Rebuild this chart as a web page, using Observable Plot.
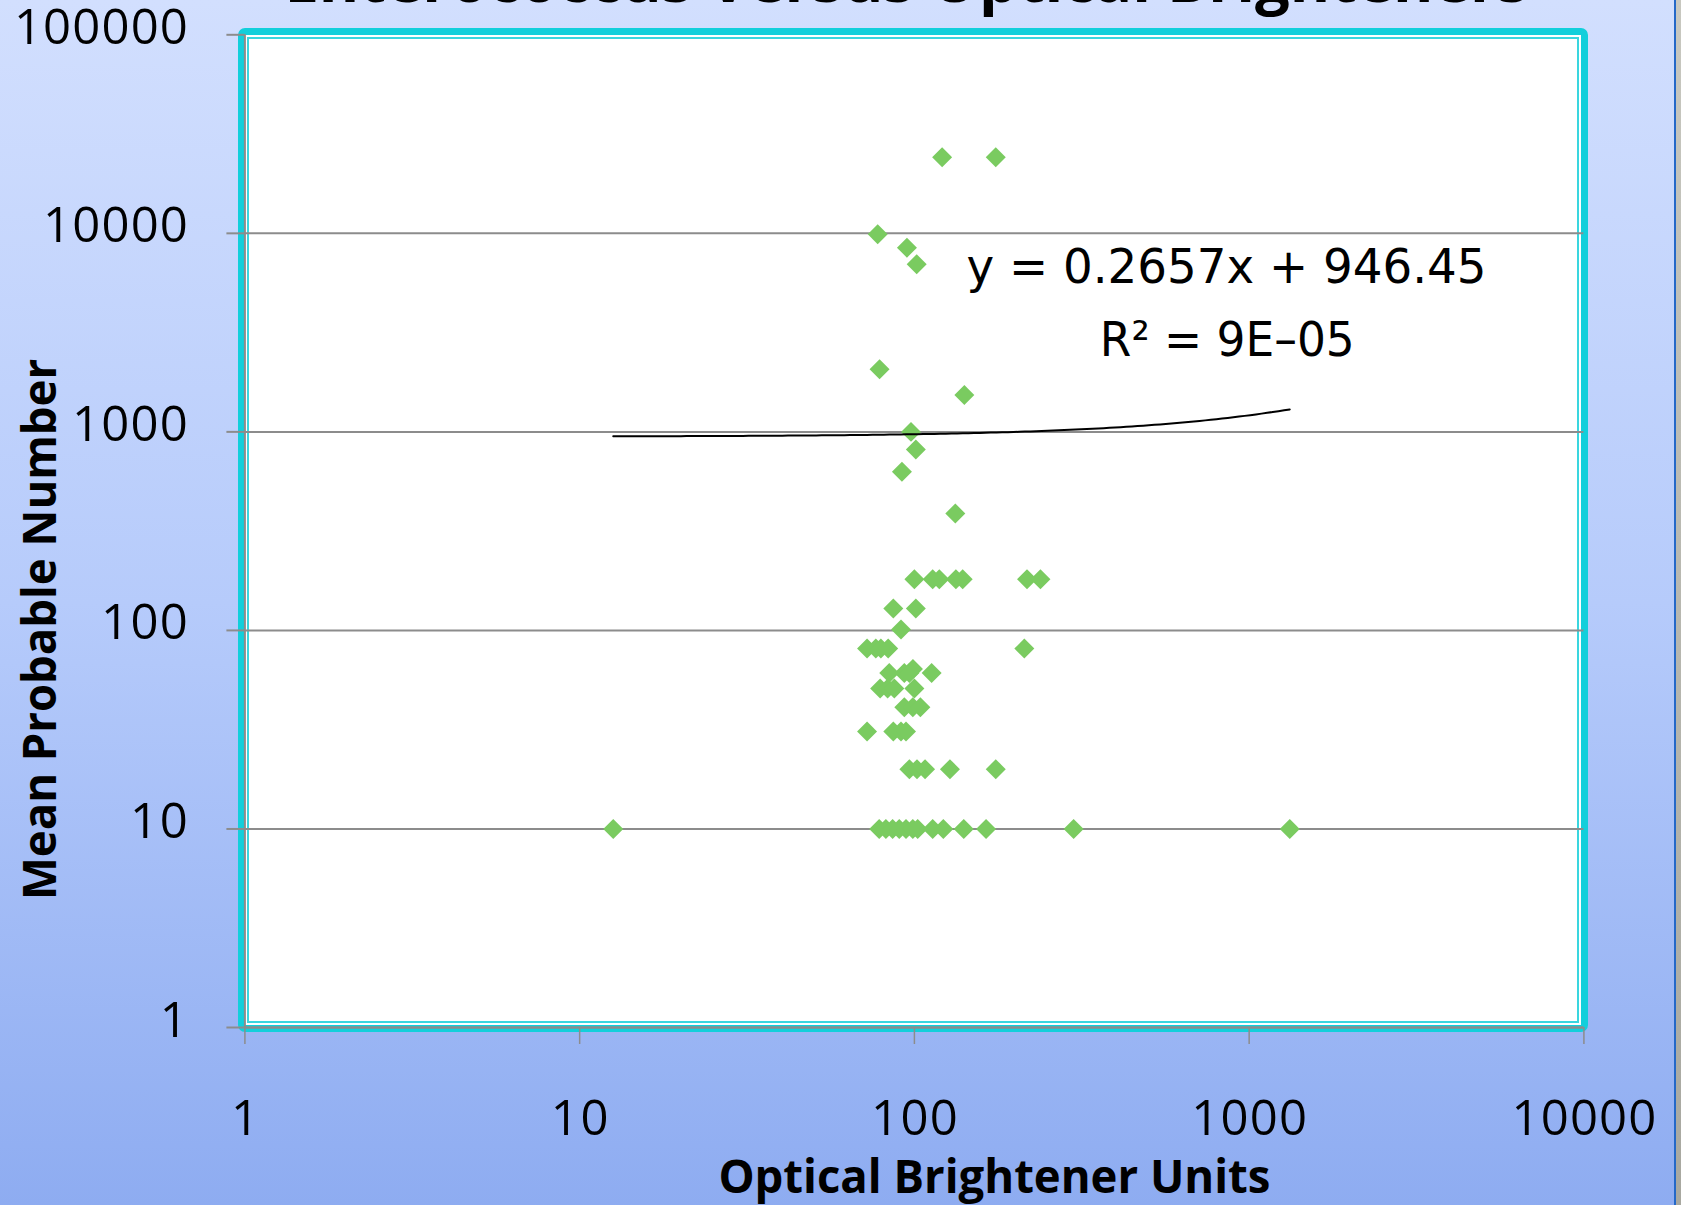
<!DOCTYPE html>
<html><head><meta charset="utf-8">
<script src="https://cdn.jsdelivr.net/npm/d3@7"></script>
<script src="https://cdn.jsdelivr.net/npm/@observablehq/plot@0.6"></script>
<style>
html,body{margin:0;padding:0;}
body{width:1681px;height:1205px;position:relative;overflow:hidden;background:linear-gradient(to bottom,#D2DFFE 0%,#B6CBFB 50%,#8EACF1 100%);}
#frame{position:absolute;left:238px;top:28px;width:1350px;height:1004px;box-sizing:border-box;border:7px solid #12CFDB;border-radius:7px;background:#fff;}
#inner{position:absolute;left:247px;top:37px;width:1332px;height:986px;box-sizing:border-box;border:2px solid #3AD6DF;}
#edge{position:absolute;left:1674px;top:0;width:2px;height:1205px;background:#2468C8;}
#strip{position:absolute;left:1676px;top:0;width:5px;height:1205px;background:linear-gradient(to bottom,#C8C8C0,#A8A8A0);}
#chart{position:absolute;left:0;top:0;}
</style></head><body>
<div id="frame"></div><div id="inner"></div><div id="edge"></div><div id="strip"></div>
<div id="chart"></div>
<script>
// Data (Optical Brightener Units vs Enterococcus MPN)
const obu = [121, 175, 77.7, 95, 101.6, 78.7, 141, 97.7, 101, 91.8, 132.5,
  100, 113.4, 118.7, 133, 139.4, 217, 238,
  86.5, 101,
  91.2,
  72.2, 76.7, 79.4, 83.5, 213,
  99,
  84.1, 93.3, 96.6, 112.6,
  79, 83.2, 87.1, 100,
  93.3, 98.9, 104.2,
  72.2, 86.5, 91.2, 94.4,
  96.6, 101.8, 107.6, 127.7, 175,
  12.6, 78.5, 82.2, 86.1, 90.1, 94.4, 98.9, 102.3, 113.4, 122, 140.4, 163.7, 299, 1322];
const mpn = [24196, 24196, 9900, 8470, 6980, 2066, 1534, 1000, 816, 630, 388,
  181, 181, 181, 181, 181, 181, 181,
  129, 129,
  101,
  81, 81, 81, 81, 81,
  64,
  61, 61, 61, 61,
  51, 51, 51, 51,
  41, 41, 41,
  31, 31, 31, 31,
  20, 20, 20, 20, 20,
  10, 10, 10, 10, 10, 10, 10, 10, 10, 10, 10, 10, 10, 10];

const xTicks = [1, 10, 100, 1000, 10000];
const xTickLabels = ["1", "10", "100", "1000", "10000"];
const yTicks = [1, 10, 100, 1000, 10000, 100000];
const yTickLabels = ["1", "10", "100", "1000", "10000", "100000"];
const yGrid = [10, 100, 1000, 10000];

const trendSlope = 0.2657;
const trendIntercept = 946.45;
const eqLine1 = "y = 0.2657x + 946.45";
const eqLine2 = "R² = 9E–05";
const title = "Enterococcus Versus Optical Brighteners";
const xLabel = "Optical Brightener Units";
const yLabel = "Mean Probable Number";

const points = obu.map((x, i) => ({x, y: mpn[i]}));
const xmin = d3.min(obu), xmax = d3.max(obu);
const trend = d3.range(0, 121).map(i => {
  const x = Math.pow(10, Math.log10(xmin) + i * (Math.log10(xmax) - Math.log10(xmin)) / 120);
  return {x, y: trendSlope * x + trendIntercept};
});

const gray = "#8C8C8C";
const tickFont = {fontSize: 49, fontFamily: "Open Sans", fill: "black"};
const chart = Plot.plot({
  width: 1681, height: 1205,
  marginLeft: 244.4, marginRight: 97.6, marginTop: 34.3, marginBottom: 178,
  style: {background: "transparent", overflow: "visible"},
  x: {type: "log", domain: [1, 10000], axis: null},
  y: {type: "log", domain: [1, 100000], axis: null},
  marks: [
    Plot.ruleY(yGrid, {stroke: gray, strokeWidth: 2}),
    Plot.ruleX([1], {stroke: gray, strokeWidth: 2}),
    Plot.axisY({ticks: yTicks, tickSize: 18, tickFormat: () => "", label: null, stroke: gray, strokeWidth: 2}),
    Plot.axisX({ticks: xTicks, tickSize: 17, tickFormat: () => "", label: null, stroke: gray, strokeWidth: 1.5}),
    Plot.ruleY([1], {stroke: gray, strokeWidth: 2.5}),
    Plot.text(yTicks, {y: d => d, text: (d, i) => yTickLabels[i], frameAnchor: "left", textAnchor: "end", lineAnchor: "bottom", dx: -57, dy: 9, ...tickFont}),
    Plot.text(xTicks, {x: d => d, text: (d, i) => xTickLabels[i], frameAnchor: "bottom", textAnchor: "middle", lineAnchor: "bottom", dy: 107, ...tickFont}),
    Plot.dot(points, {x: "x", y: "y", symbol: "diamond2", r: 9, fill: "#7ACB60", stroke: "none"}),
    Plot.line(trend, {x: "x", y: "y", stroke: "black", strokeWidth: 2}),
    Plot.text([eqLine1], {frameAnchor: "top-left", dx: 981.6, dy: 248.4, textAnchor: "middle", lineAnchor: "bottom", fontSize: 48, fontFamily: "DejaVu Sans", fill: "black"}),
    Plot.text([eqLine2], {frameAnchor: "top-left", dx: 982.4, dy: 320.7, textAnchor: "middle", lineAnchor: "bottom", fontSize: 48, fontFamily: "DejaVu Sans", fill: "black"}),
    Plot.text([title], {frameAnchor: "top", dx: -8, dy: -33, textAnchor: "middle", lineAnchor: "bottom", fontSize: 60, fontWeight: "bold", fontFamily: "Open Sans", fill: "black"}),
    Plot.text([xLabel], {frameAnchor: "bottom", dx: 80, dy: 165.7, textAnchor: "middle", lineAnchor: "bottom", fontSize: 47, fontWeight: "bold", fontFamily: "Open Sans", fill: "black"}),
    Plot.text([yLabel], {frameAnchor: "left", rotate: -90, dx: -189.4, dy: 98.3, textAnchor: "middle", lineAnchor: "bottom", fontSize: 47, fontWeight: "bold", fontFamily: "Open Sans", fill: "black"})
  ]
});
document.getElementById("chart").appendChild(chart);

const lengths = new Map([[eqLine1, 520], [eqLine2, 255], [title, 1244], [xLabel, 552], [yLabel, 541]]);
const tickLabelSet = new Set([...xTickLabels, ...yTickLabels]);
d3.select(chart).selectAll("text").each(function() {
  const t = this.textContent;
  if (lengths.has(t)) {
    d3.select(this).attr("textLength", lengths.get(t)).attr("lengthAdjust", "spacingAndGlyphs");
  } else if (tickLabelSet.has(t) && t.length > 1) {
    d3.select(this).attr("textLength", t.length * 29).attr("lengthAdjust", "spacing");
  }
});
</script>
</body></html>
